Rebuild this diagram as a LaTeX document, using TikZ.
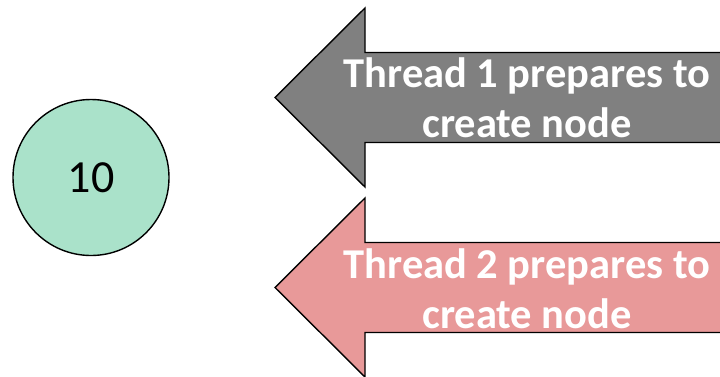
\documentclass[tikz,border=0pt]{standalone}
\usepackage{fontspec}
\setmainfont{Carlito}
\definecolor{nodegreen}{RGB}{170,226,202}
\definecolor{threadgray}{RGB}{128,128,128}
\definecolor{threadpink}{RGB}{232,153,153}
\begin{document}
\begin{tikzpicture}[x=1pt,y=-1pt,
  shapeline/.style={draw=black,line width=1.4pt,line join=miter},
  labeltext/.style={text=white,font=\fontsize{42.5}{50}\selectfont\bfseries,align=center,inner sep=0pt},
  valnode/.style={circle,shapeline,fill=nodegreen,minimum size=156pt,inner sep=0pt,font=\fontsize{46}{46}\selectfont}]
\useasboundingbox (0,0) rectangle (720,376);
% value node
\node[valnode] (n10) at (91,177.5) {10};
% thread 1 arrow
\draw[shapeline,fill=threadgray] (724,52.5) -- (365,52.5) -- (365,8) -- (275,97.5) -- (365,187) -- (365,142.5) -- (724,142.5);
\node[labeltext] (t1) at (527,98) {Thread 1 prepares to\\create node};
% thread 2 arrow
\draw[shapeline,fill=threadpink] (724,242.5) -- (365,242.5) -- (365,198) -- (275,287.5) -- (365,377) -- (365,332.5) -- (724,332.5);
\node[labeltext] (t2) at (527,288.5) {Thread 2 prepares to\\create node};
\end{tikzpicture}
\end{document}
